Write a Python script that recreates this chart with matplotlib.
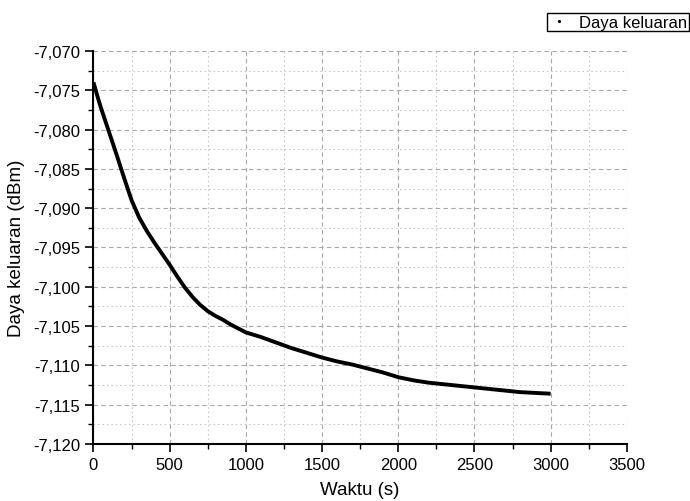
import matplotlib
matplotlib.use("Agg")
import matplotlib.pyplot as plt
from matplotlib.lines import Line2D
from matplotlib.ticker import MultipleLocator, FuncFormatter

# Values
waktu = [0, 25, 50, 100, 150, 200, 250, 300, 350, 400, 450, 500, 550, 600,
         650, 700, 750, 800, 850, 900, 950, 1000, 1100, 1200, 1300, 1400,
         1500, 1600, 1700, 1800, 1900, 2000, 2100, 2200, 2300, 2400, 2500,
         2600, 2700, 2800, 2900, 3000]
daya = [-7.0740, -7.0757, -7.0773, -7.0802, -7.0831, -7.0861, -7.0890,
        -7.0912, -7.0929, -7.0944, -7.0958, -7.0972, -7.0987, -7.1001,
        -7.1013, -7.1023, -7.1031, -7.1037, -7.1042, -7.1048, -7.1053,
        -7.1058, -7.1064, -7.1071, -7.1078, -7.1084, -7.1090, -7.1095,
        -7.1099, -7.1104, -7.1109, -7.1115, -7.1119, -7.1122, -7.1124,
        -7.1126, -7.1128, -7.1130, -7.1132, -7.1134, -7.1135, -7.1136]
series_label = "Daya keluaran"

plt.rcParams["font.family"] = ["Liberation Sans", "DejaVu Sans"]

fig = plt.figure(figsize=(6.9, 5.02), dpi=100)
ax = fig.add_axes([0.1355, 0.1135, 0.773, 0.783])

ax.plot(waktu, daya, color="black", lw=2.8, solid_capstyle="butt")

ax.set_xlim(0, 3500)
ax.set_ylim(-7.120, -7.070)
ax.xaxis.set_major_locator(MultipleLocator(500))
ax.xaxis.set_minor_locator(MultipleLocator(250))
ax.yaxis.set_major_locator(MultipleLocator(0.005))
ax.yaxis.set_minor_locator(MultipleLocator(0.0025))
ax.yaxis.set_major_formatter(FuncFormatter(lambda v, p: f"{v:.3f}".replace(".", ",")))

ax.grid(which="major", color="#a8a8a8", ls=(0, (4, 3)), lw=0.8)
ax.grid(which="minor", color="#c8c8c8", ls=(0, (1.5, 2.5)), lw=0.8)
ax.set_axisbelow(True)

for side in ["top", "right"]:
    ax.spines[side].set_visible(False)
for side in ["left", "bottom"]:
    ax.spines[side].set_linewidth(1.5)

ax.tick_params(which="major", direction="out", length=6, width=1.2, labelsize=12)
ax.tick_params(which="minor", direction="out", length=3.5, width=1.0)

ax.set_xlabel("Waktu (s)", fontsize=13.5, labelpad=6)
ax.set_ylabel("Daya keluaran (dBm)", fontsize=13.5, labelpad=6)

handle = Line2D([], [], ls="none", marker=".", ms=2.5, color="black")
leg = fig.legend([handle], [series_label], loc="upper right",
                 bbox_to_anchor=(0.998, 0.972), fontsize=12, frameon=True,
                 fancybox=False, edgecolor="black", framealpha=1,
                 borderpad=0.1, handlelength=1.2, handletextpad=0.6,
                 borderaxespad=0.0)
leg.get_frame().set_linewidth(1.0)

fig.savefig("out.png", dpi=100)
